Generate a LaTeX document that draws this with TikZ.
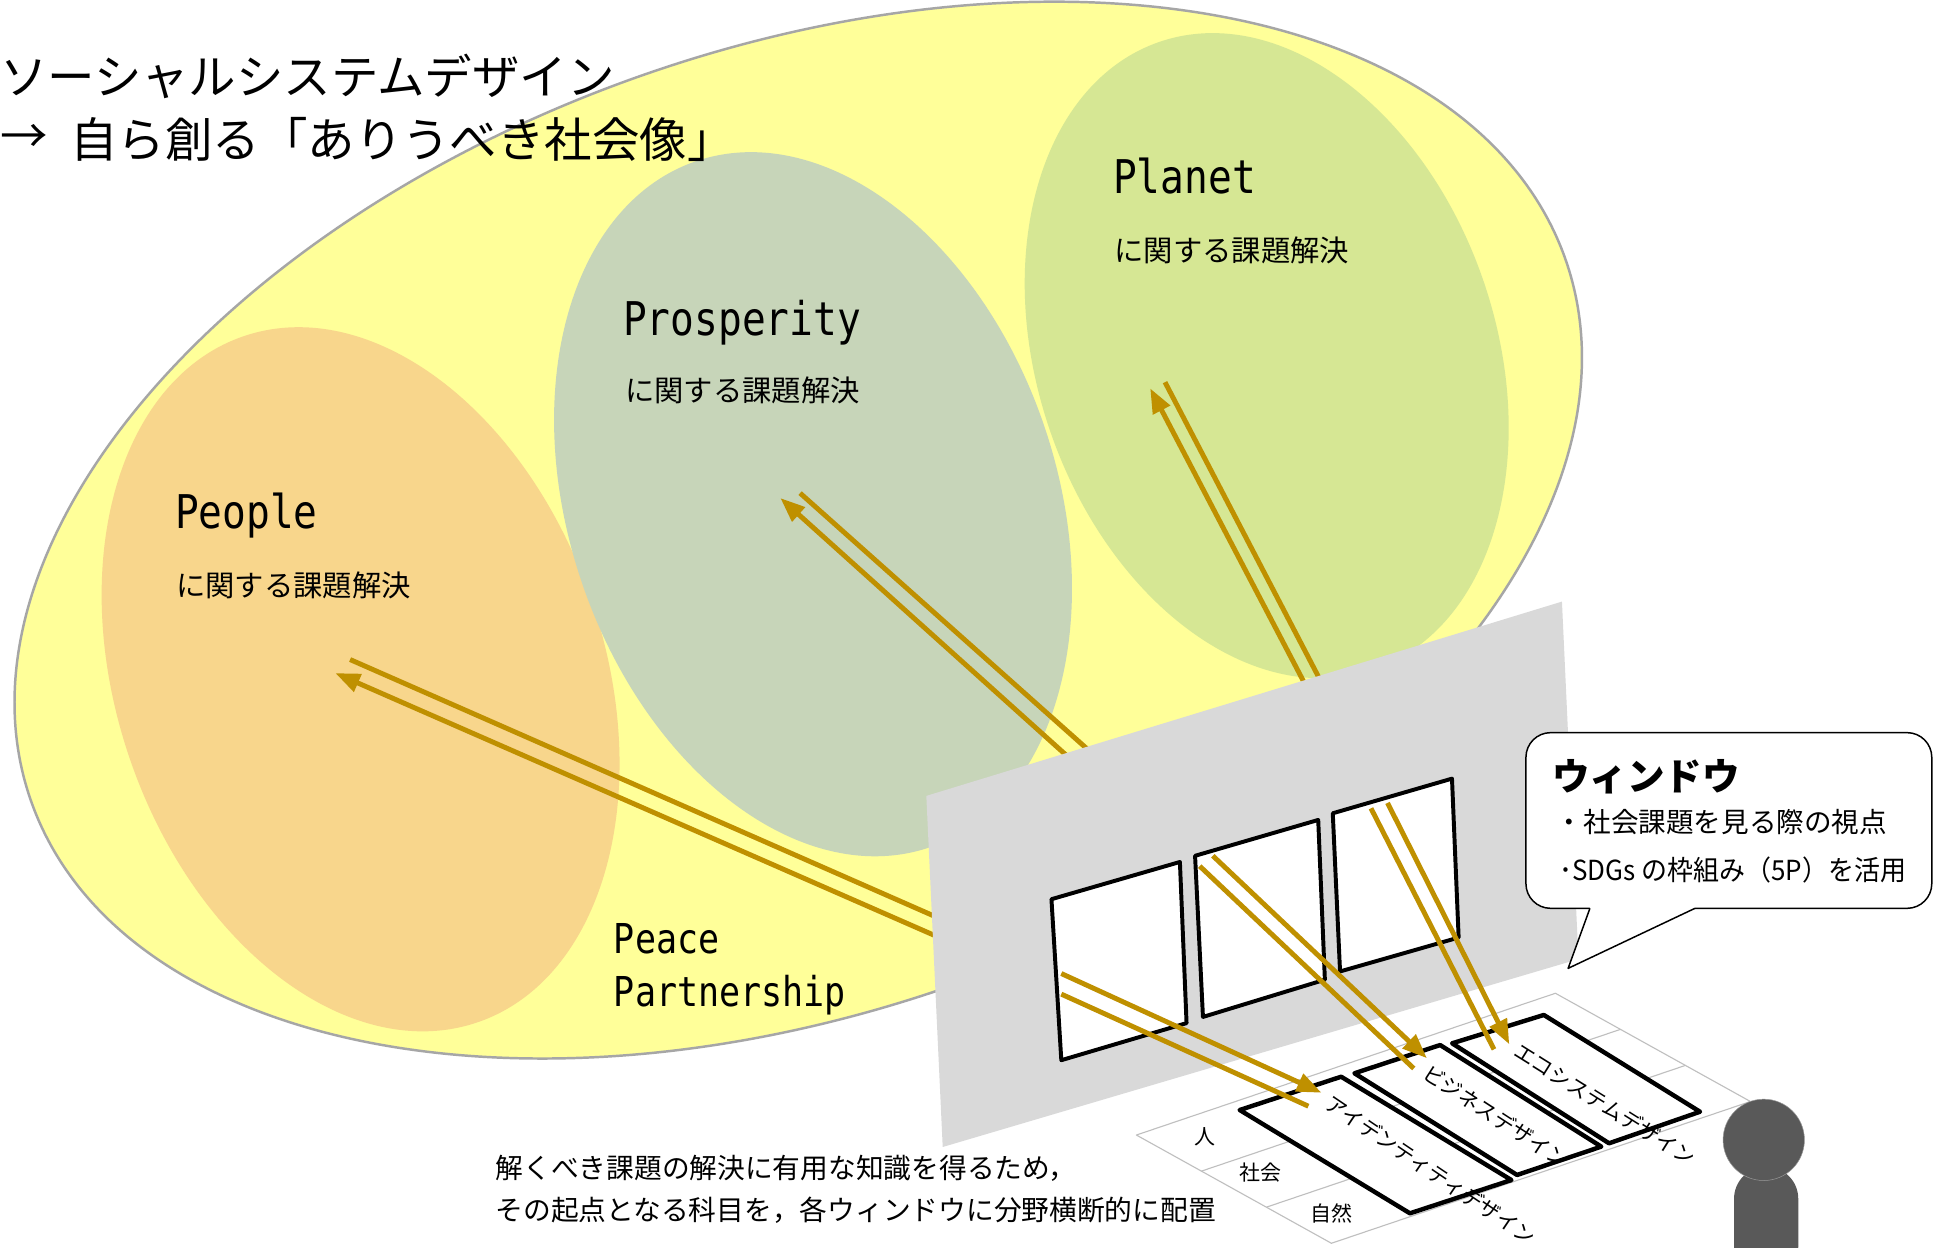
\documentclass[tikz,border=0pt]{standalone}
\usepackage{fontspec}
\setmainfont{Noto Sans CJK JP}
\newfontfamily\monofnt[FakeStretch=0.85]{DejaVu Sans Mono}
\usetikzlibrary{arrows.meta}

\definecolor{sdgyellow}{RGB}{255,255,153}
\definecolor{rimgray}{RGB}{166,166,166}
\definecolor{peoplefill}{RGB}{248,214,140}
\definecolor{prosperfill}{RGB}{199,213,185}
\definecolor{planetfill}{RGB}{214,231,148}
\definecolor{panelgray}{RGB}{217,217,217}
\definecolor{gold}{RGB}{191,144,0}
\definecolor{gridgray}{RGB}{191,191,191}
\definecolor{figgray}{RGB}{89,89,89}

\begin{document}
\begin{tikzpicture}[x=1pt,y=-1pt,line join=round,
  txt/.style={inner sep=0pt, outer sep=0pt},
  pname/.style={txt, anchor=base west, font=\monofnt\fontsize{37.7}{42}\selectfont},
  pnamesmall/.style={txt, anchor=base west, font=\monofnt\fontsize{33.4}{38}\selectfont},
  pcaption/.style={txt, anchor=west, font=\fontsize{23.8}{28}\selectfont},
  headline/.style={txt, anchor=west, font=\fontsize{38.5}{44}\selectfont},
  goldline/.style={draw=gold, line width=4pt},
  goldarrow/.style={goldline, -{Triangle[length=20pt,width=15pt]}},
  winbox/.style={fill=white, draw=black, line width=3.2pt},
  floorbox/.style={fill=white, draw=black, line width=3.6pt},
  floorline/.style={draw=gridgray, line width=0.9pt},
  floortag/.style={txt, font=\fontsize{17}{20}\selectfont},
  bubbletext/.style={txt, anchor=west, font=\fontsize{22.4}{26}\selectfont},
  notetext/.style={txt, anchor=west, font=\fontsize{22.5}{27}\selectfont},
]
\useasboundingbox (0,0) rectangle (1568,1012);
\fill[white] (0,0) rectangle (1568,1012);

% the social system as a whole
\filldraw[fill=sdgyellow, draw=rimgray, line width=2pt, rotate around={19.5:(647.5,430)}]
  (647.5,430) ellipse [x radius=660pt, y radius=390pt];

% the three P circles
\fill[peoplefill, rotate around={18.8:(292.5,551)}]
  (292.5,551) ellipse [x radius=198pt, y radius=294pt];
\fill[prosperfill, rotate around={18.8:(659.5,409)}]
  (659.5,409) ellipse [x radius=198pt, y radius=294pt];
\fill[planetfill, rotate around={18.8:(1027.5,288.5)}]
  (1027.5,288.5) ellipse [x radius=186pt, y radius=269pt];

% headline
\node[headline] (title1) at (0,62) {ソーシャルシステムデザイン};
\node[headline] (titlearrow) at (0,113) {→};
\node[headline] (title2) at (57,113) {自ら創る「ありうべき社会像」};

% labels of the P circles
\node[pname] (planet) at (903,156.8) {Planet};
\node[pcaption] (planetcap) at (904,203) {に関する課題解決};
\node[pname] (prosperity) at (505.5,271.8) {Prosperity};
\node[pcaption] (prospercap) at (507,317) {に関する課題解決};
\node[pname] (people) at (142,428.6) {People};
\node[pcaption] (peoplecap) at (143,474.5) {に関する課題解決};
\node[pnamesmall] (peace) at (498,773.3) {Peace};
\node[pnamesmall] (partnership) at (498,816.6) {Partnership};

% links from the wall up to each circle
\coordinate (peA1) at (760.3,744.2); \coordinate (peA2) at (284,535);
\coordinate (peB1) at (761.3,760.2); \coordinate (peB2) at (272,546);
\coordinate (prA1) at (885,610.3);   \coordinate (prA2) at (649,400);
\coordinate (prB1) at (868,615.4);   \coordinate (prB2) at (633,404);
\coordinate (plA1) at (1072.7,555.1); \coordinate (plA2) at (945,310);
\coordinate (plB1) at (1059.7,557.1); \coordinate (plB2) at (933,315);
\draw[goldline] (peA1) -- (peA2);
\draw[goldarrow] (peB1) -- (peB2);
\draw[goldline] (prA1) -- (prA2);
\draw[goldarrow] (prB1) -- (prB2);
\draw[goldline] (plA1) -- (plA2);
\draw[goldarrow] (plB1) -- (plB2);

% the wall with its three windows
\fill[panelgray] (751.4,645.6) -- (1267,488) -- (1280.4,778) -- (764.7,930.4) -- cycle;
\filldraw[winbox] (852.9,729.4) -- (957.1,699.2) -- (962.5,829.9) -- (860.9,860) -- cycle;
\filldraw[winbox] (969.4,694.2) -- (1069.3,665.1) -- (1074.7,794.7) -- (975.8,824.9) -- cycle;
\filldraw[winbox] (1081.1,659.7) -- (1177.8,631.6) -- (1183.2,760.5) -- (1087,788) -- cycle;

% floor grid: three bands
\coordinate (fA) at (921.8,920.7);
\coordinate (fB) at (1261.7,805.7);
\coordinate (fC) at (1419.9,893.5);
\coordinate (fD) at (1080,1008.5);
\filldraw[floorline, fill=white] (fA) -- (fB) -- (fC) -- (fD) -- cycle;
\draw[floorline] (974.5,950) -- (1314.4,835);
\draw[floorline] (1027.3,979.2) -- (1367.2,864.2);
\node[floortag] (hito) at (977.5,922) {人};
\node[floortag] (shakai) at (1022.5,951.5) {社会};
\node[floortag] (shizen) at (1080,984) {自然};

% subject areas laid across the bands
\filldraw[floorbox] (1005.6,900.4) -- (1087.9,873.4) -- (1226,957.2) -- (1143.7,984.2) -- cycle;
\filldraw[floorbox] (1098.7,870.6) -- (1168.2,847.7) -- (1298.9,930.1) -- (1230.6,953.1) -- cycle;
\filldraw[floorbox] (1177.9,846.3) -- (1252.3,823.3) -- (1379,901.8) -- (1305.2,927.4) -- cycle;
\node[floortag, rotate=-34] (identity) at (1160.5,949) {アイデンティティデザイン};
\node[floortag, rotate=-33] (business) at (1213.5,905.5) {ビジネスデザイン};
\node[floortag, rotate=-32] (ecosystem) at (1302,895.7) {エコシステムデザイン};

% links from each window down to its subject area
\coordinate (w1A1) at (860.9,789.7);  \coordinate (w1A2) at (1072,886.4);
\coordinate (w1B1) at (860.9,806.4);  \coordinate (w1B2) at (1061.3,897.3);
\coordinate (w2A1) at (983.8,694.2);  \coordinate (w2A2) at (1157.5,858.4);
\coordinate (w2B1) at (973.2,702.6);  \coordinate (w2B2) at (1146.8,866.7);
\coordinate (w3A1) at (1125.5,651.3); \coordinate (w3A2) at (1224.3,847.1);
\coordinate (w3B1) at (1112.1,655.7); \coordinate (w3B2) at (1211.9,851.2);
\draw[goldarrow] (w1A1) -- (w1A2);
\draw[goldline] (w1B1) -- (w1B2);
\draw[goldarrow] (w2A1) -- (w2A2);
\draw[goldline] (w2B1) -- (w2B2);
\draw[goldarrow] (w3A1) -- (w3A2);
\draw[goldline] (w3B1) -- (w3B2);

% speech bubble
\filldraw[fill=white, draw=black, line width=1.2pt, rounded corners=20pt]
  (1237.8,594.3) rectangle (1567,736.8);
\fill[white] (1289.7,736.8) -- (1272,785.5) -- (1374.9,736.8) -- (1374.9,733.5) -- (1289.7,733.5) -- cycle;
\coordinate (tailL) at (1289.7,736.8);
\coordinate (tailTip) at (1272,785.5);
\coordinate (tailR) at (1374.9,736.8);
\draw[black, line width=1.2pt] (tailL) -- (tailTip) -- (tailR);
\node[txt, anchor=west, font=\bfseries\fontsize{30.5}{35}\selectfont] (wintitle) at (1259,630) {ウィンドウ};
\node[bubbletext] (winline1) at (1262,667) {・社会課題を見る際の視点};
\node[bubbletext] (winline2) at (1265,706) {\scalebox{0.94}[1]{･SDGs の枠組み（5P）を活用}};

% the viewer
\fill[figgray, rounded corners=26pt] (1406.6,1012) -- (1406.6,946.4) -- (1458.7,946.4) -- (1458.7,1012);
\fill[figgray] (1406.6,1012) rectangle (1458.7,990);
\filldraw[fill=figgray, draw=gray!80] (1430.7,924.6) circle (33pt);

% note under the wall
\node[notetext] (note1) at (402,948) {解くべき課題の解決に有用な知識を得るため，};
\node[notetext] (note2) at (402,982) {その起点となる科目を，各ウィンドウに分野横断的に配置};
\end{tikzpicture}
\end{document}
